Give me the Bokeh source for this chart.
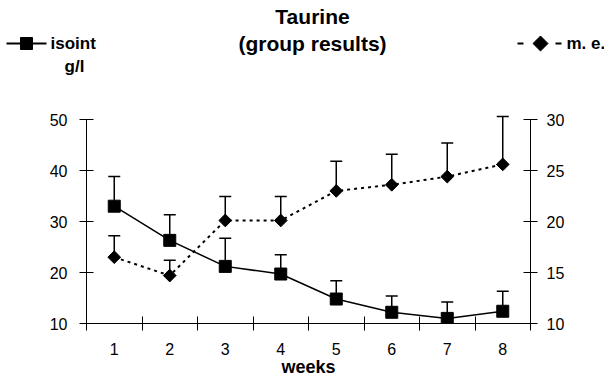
import math

from bokeh.embed import file_html
from bokeh.resources import INLINE
from bokeh.layouts import column, row
from bokeh.plotting import figure
from bokeh.models import (Range1d, LinearAxis, FixedTicker, Whisker, TeeHead,
                          ColumnDataSource, Label)

# ---- data -------------------------------------------------------------
weeks = [1, 2, 3, 4, 5, 6, 7, 8]
week_labels = ["1", "2", "3", "4", "5", "6", "7", "8"]

# isoint (g/l), left axis: group mean and upper error (SD)
isoint = [33.0, 26.3, 21.2, 19.7, 14.8, 12.2, 11.0, 12.4]
isoint_sd = [5.8, 5.0, 5.5, 3.8, 3.6, 3.2, 3.2, 3.9]

# m. e., right axis: group mean and upper error (SD)
me = [16.5, 14.7, 20.1, 20.1, 23.0, 23.6, 24.4, 25.6]
me_sd = [2.1, 1.5, 2.35, 2.35, 2.9, 3.0, 3.3, 4.7]

left_ticks = [10, 20, 30, 40, 50]
right_ticks = [10, 15, 20, 25, 30]

FONT = "Liberation Sans"

# ---- layout (pixels) ---------------------------------------------------
W = 604
HEAD_H = 80            # strip holding the title and the series key
MAIN_H = 299           # chart below it
BORDER_L, BORDER_R, BORDER_B = 86, 74, 56
PX_PER_LEFT = 5.1      # pixels per unit on the left axis
PX_PER_RIGHT = 10.2    # pixels per unit on the right axis

frame_h = MAIN_H - BORDER_B

# ---- header: title and key --------------------------------------------
head = figure(width=W, height=HEAD_H, x_range=Range1d(0, W),
              y_range=Range1d(HEAD_H, 0), x_axis_type=None, y_axis_type=None,
              output_backend="svg", toolbar_location=None, title=None,
              min_border=0)
head.grid.visible = False
head.outline_line_color = None
head.background_fill_color = "white"
head.border_fill_color = "white"


def head_label(x, y, text, size, align="center"):
    head.add_layout(Label(x=x, y=y, text=text, text_align=align,
                          text_baseline="middle", text_font=FONT,
                          text_font_style="bold", text_font_size=size,
                          text_color="black"))


head_label(312, 16, "Taurine", "21px")
head_label(312, 43, "(group results)", "21px")

# isoint key: solid line through a square
head.line([6, 46], [43, 43], line_color="black", line_width=2)
head.scatter([26], [43], marker="square", size=12,
             fill_color="black", line_color="black")
head_label(50, 43, "isoint", "17px", align="left")
head_label(74, 66, "g/l", "17px")

# m. e. key: dashed line through a diamond
head.line([517, 561], [43, 43], line_color="black", line_width=2,
          line_dash="6 32")
head.scatter([540], [43], marker="square", angle=math.pi / 4, size=10.6,
             fill_color="black", line_color="black")
head_label(566, 43, "m. e.", "17px", align="left")

# ---- main chart --------------------------------------------------------
y_top_left = 10 + frame_h / PX_PER_LEFT
y_top_right = 10 + frame_h / PX_PER_RIGHT

p = figure(width=W, height=MAIN_H,
           x_range=Range1d(0.5, 8.5), y_range=Range1d(10, y_top_left),
           output_backend="svg", toolbar_location=None, title=None,
           min_border_left=BORDER_L, min_border_right=BORDER_R,
           min_border_top=0, min_border_bottom=BORDER_B)
p.extra_y_ranges = {"me": Range1d(10, y_top_right)}
p.xgrid.visible = False
p.ygrid.visible = False
p.outline_line_color = None
p.background_fill_color = "white"
p.border_fill_color = "white"

right_axis = LinearAxis(y_range_name="me")
p.add_layout(right_axis, "right")

# y axes, drawn only over their value span
p.yaxis[0].ticker = FixedTicker(ticks=left_ticks)
p.yaxis[0].bounds = (left_ticks[0], left_ticks[-1])
p.yaxis[0].major_label_standoff = 12
right_axis.ticker = FixedTicker(ticks=right_ticks)
right_axis.bounds = (right_ticks[0], right_ticks[-1])
right_axis.major_label_standoff = 9
for ax in (p.yaxis[0], right_axis):
    ax.major_tick_in = 7
    ax.major_tick_out = 7
    ax.minor_tick_line_color = None
    ax.axis_line_color = "black"
    ax.major_tick_line_color = "black"
    ax.major_label_text_font = FONT
    ax.major_label_text_font_size = "16px"
    ax.major_label_text_color = "black"

# x axis: labels at week centres, tick marks between weeks
xa = p.xaxis[0]
xa.ticker = FixedTicker(ticks=weeks, minor_ticks=[w - 0.5 for w in weeks] + [8.5])
xa.major_label_overrides = {w: s for w, s in zip(weeks, week_labels)}
xa.major_tick_in = 0
xa.major_tick_out = 0
xa.minor_tick_in = 7
xa.minor_tick_out = 7
xa.minor_tick_line_color = "black"
xa.axis_line_color = "black"
xa.major_label_standoff = 12
xa.major_label_text_font = FONT
xa.major_label_text_font_size = "16px"
xa.major_label_text_color = "black"
xa.axis_label = "weeks"
xa.axis_label_standoff = -1
xa.axis_label_text_font = FONT
xa.axis_label_text_font_style = "bold"
xa.axis_label_text_font_size = "18px"
xa.axis_label_text_color = "black"

# ---- series ------------------------------------------------------------
src_iso = ColumnDataSource(dict(
    x=weeks, y=isoint, up=[m + s for m, s in zip(isoint, isoint_sd)]))
src_me = ColumnDataSource(dict(
    x=weeks, y=me, up=[m + s for m, s in zip(me, me_sd)]))

p.add_layout(Whisker(source=src_iso, base="x", lower="y", upper="up",
                     dimension="height", lower_head=None,
                     upper_head=TeeHead(size=12, line_width=1.5, line_color="black"),
                     line_width=1.5, line_color="black"))
p.add_layout(Whisker(source=src_me, base="x", lower="y", upper="up",
                     dimension="height", y_range_name="me", lower_head=None,
                     upper_head=TeeHead(size=12, line_width=1.5, line_color="black"),
                     line_width=1.5, line_color="black"))

p.line("x", "y", source=src_me, y_range_name="me", line_color="black",
       line_width=2, line_dash="3 4")
p.scatter("x", "y", source=src_me, y_range_name="me", marker="square",
          angle=math.pi / 4, size=9, fill_color="black", line_color="black")

p.line("x", "y", source=src_iso, line_color="black", line_width=1.5)
p.scatter("x", "y", source=src_iso, marker="square", size=12,
          fill_color="black", line_color="black")

# the header sits in its own row so its frame spans the full width
layout = column(row(head), p, spacing=0)
open("out.html", "w").write(file_html(layout, INLINE))
